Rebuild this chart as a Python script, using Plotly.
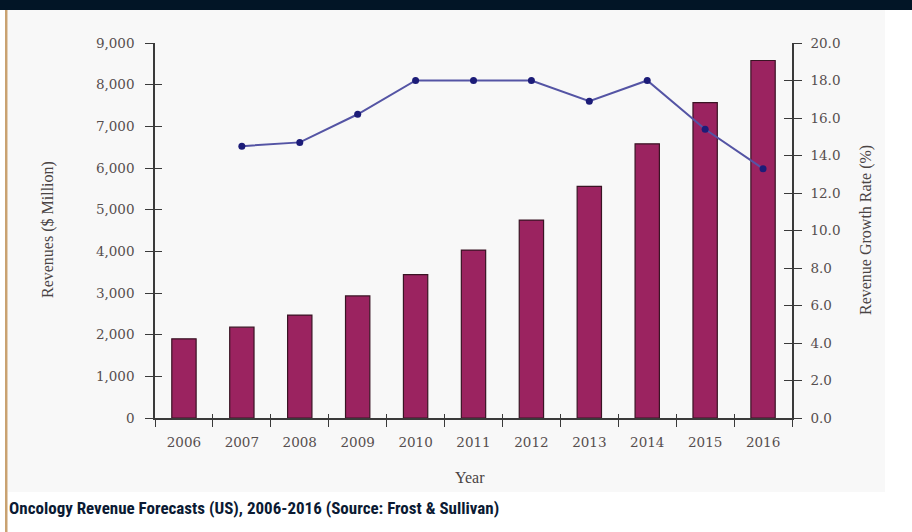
import plotly.graph_objects as go

years = ["2006", "2007", "2008", "2009", "2010", "2011", "2012", "2013", "2014", "2015", "2016"]
revenues = [1900, 2180, 2470, 2930, 3440, 4030, 4750, 5560, 6580, 7570, 8580]
growth_years = ["2007", "2008", "2009", "2010", "2011", "2012", "2013", "2014", "2015", "2016"]
growth = [14.5, 14.7, 16.2, 18.0, 18.0, 18.0, 16.9, 18.0, 15.4, 13.3]
left_ticks = [0, 1000, 2000, 3000, 4000, 5000, 6000, 7000, 8000, 9000]
right_ticks = [0, 2, 4, 6, 8, 10, 12, 14, 16, 18, 20]

W, H = 912, 532
L, R, T, B = 155, 120, 43, 114
pw, ph = W - L - R, H - T - B

def px(x):
    return (x - L) / pw

def py(y):
    return (H - B - y) / ph

serif = "Liberation Serif, DejaVu Serif, serif"
tick_font = dict(family="DejaVu Serif, serif", size=13.5, color="#564e4e")
axis_col = "#3a3a3a"

fig = go.Figure()
fig.add_trace(go.Bar(
    x=years, y=revenues, marker=dict(color="#9b2360", line=dict(color="#3a1424", width=1.2)),
    width=0.42, yaxis="y", hoverinfo="skip"))
fig.add_trace(go.Scatter(
    x=growth_years, y=growth, yaxis="y2", mode="lines+markers",
    line=dict(color="#5454a4", width=2),
    marker=dict(color="#1c1c78", size=7), hoverinfo="skip"))
# helper invisible traces for crossing ticks
fig.add_trace(go.Scatter(x=years[:1], y=[0], yaxis="y3", mode="markers",
                         marker=dict(opacity=0), hoverinfo="skip"))
fig.add_trace(go.Scatter(x=years[:1], y=[0], yaxis="y4", mode="markers",
                         marker=dict(opacity=0), hoverinfo="skip"))
fig.add_trace(go.Scatter(x=years[:1], y=[0], xaxis="x2", yaxis="y", mode="markers",
                         marker=dict(opacity=0), hoverinfo="skip"))

common_y = dict(showgrid=False, zeroline=False, fixedrange=True)
fig.update_layout(
    width=W, height=H, margin=dict(l=L, r=R, t=T, b=B),
    paper_bgcolor="white", plot_bgcolor="rgba(0,0,0,0)",
    showlegend=False, bargap=0.58,
    xaxis=dict(type="category", categoryorder="array", categoryarray=years,
               range=[-0.5, 10.5],
               showline=True, linecolor=axis_col, linewidth=1.5,
               ticks="outside", ticklen=7, tickwidth=1.2, tickcolor=axis_col,
               tickson="boundaries", tickfont=tick_font, ticklabelstandoff=11,
               showgrid=False, fixedrange=True),
    xaxis2=dict(type="category", categoryorder="array", categoryarray=years,
                range=[-0.5, 10.5], overlaying="x", side="bottom", anchor="y",
                ticks="inside", ticklen=4, tickwidth=1.2, tickcolor=axis_col,
                tickson="boundaries", showticklabels=False, showline=False,
                showgrid=False, fixedrange=True),
    yaxis=dict(range=[0, 9000], tickvals=left_ticks,
               ticktext=[f"{v:,}" for v in left_ticks],
               showline=True, linecolor=axis_col, linewidth=1.5,
               ticks="outside", ticklen=8, tickwidth=1.2, tickcolor=axis_col,
               tickfont=tick_font, ticklabelstandoff=8, **common_y),
    yaxis3=dict(range=[0, 9000], tickvals=left_ticks, overlaying="y", side="left",
                anchor="x", ticks="inside", ticklen=7, tickwidth=1.2, tickcolor=axis_col,
                showticklabels=False, showline=False, **common_y),
    yaxis2=dict(range=[0, 20], tickvals=right_ticks,
                ticktext=[f"{v:.1f}" for v in right_ticks],
                overlaying="y", side="right", anchor="x",
                showline=True, linecolor=axis_col, linewidth=1.5,
                ticks="outside", ticklen=8, tickwidth=1.2, tickcolor=axis_col,
                tickfont=tick_font, ticklabelstandoff=6, **common_y),
    yaxis4=dict(range=[0, 20], tickvals=right_ticks, overlaying="y", side="right",
                anchor="x", ticks="inside", ticklen=8, tickwidth=1.2, tickcolor=axis_col,
                showticklabels=False, showline=False, **common_y),
)

shapes = [
    # faint chart panel
    dict(type="rect", xref="paper", yref="paper", x0=px(8), x1=px(885), y0=py(492), y1=py(10),
         fillcolor="#f8f8f8", line=dict(width=0), layer="below"),
    # top dark band
    dict(type="rect", xref="paper", yref="paper", x0=px(0), x1=px(912), y0=py(10), y1=py(0),
         fillcolor="#021526", line=dict(width=0), layer="above"),
    # left border
    dict(type="rect", xref="paper", yref="paper", x0=px(5), x1=px(7.5), y0=py(532), y1=py(10),
         fillcolor="#c9a271", line=dict(width=0), layer="above"),
]
fig.update_layout(shapes=shapes)

title_font = dict(family=serif, size=16, color="#4a4444")
fig.add_annotation(text="Revenues ($ Million)", xref="paper", yref="paper",
                   x=px(48), y=py(230), textangle=-90, showarrow=False, font=title_font,
                   xanchor="center", yanchor="middle")
fig.add_annotation(text="Revenue Growth Rate (%)", xref="paper", yref="paper",
                   x=px(866), y=py(230), textangle=-90, showarrow=False, font=title_font,
                   xanchor="center", yanchor="middle")
fig.add_annotation(text="Year", xref="paper", yref="paper",
                   x=px(470), y=py(477), showarrow=False, font=title_font,
                   xanchor="center", yanchor="middle")
fig.add_annotation(text="<b>Oncology Revenue Forecasts (US), 2006-2016 (Source: Frost &amp; Sullivan)</b>",
                   xref="paper", yref="paper", x=px(7), y=py(508), showarrow=False,
                   font=dict(family="Liberation Sans Narrow, Roboto Condensed, Arial Narrow, sans-serif",
                             size=17, color="#0b1a33"),
                   xanchor="left", yanchor="middle")

fig.write_html("out.html")
